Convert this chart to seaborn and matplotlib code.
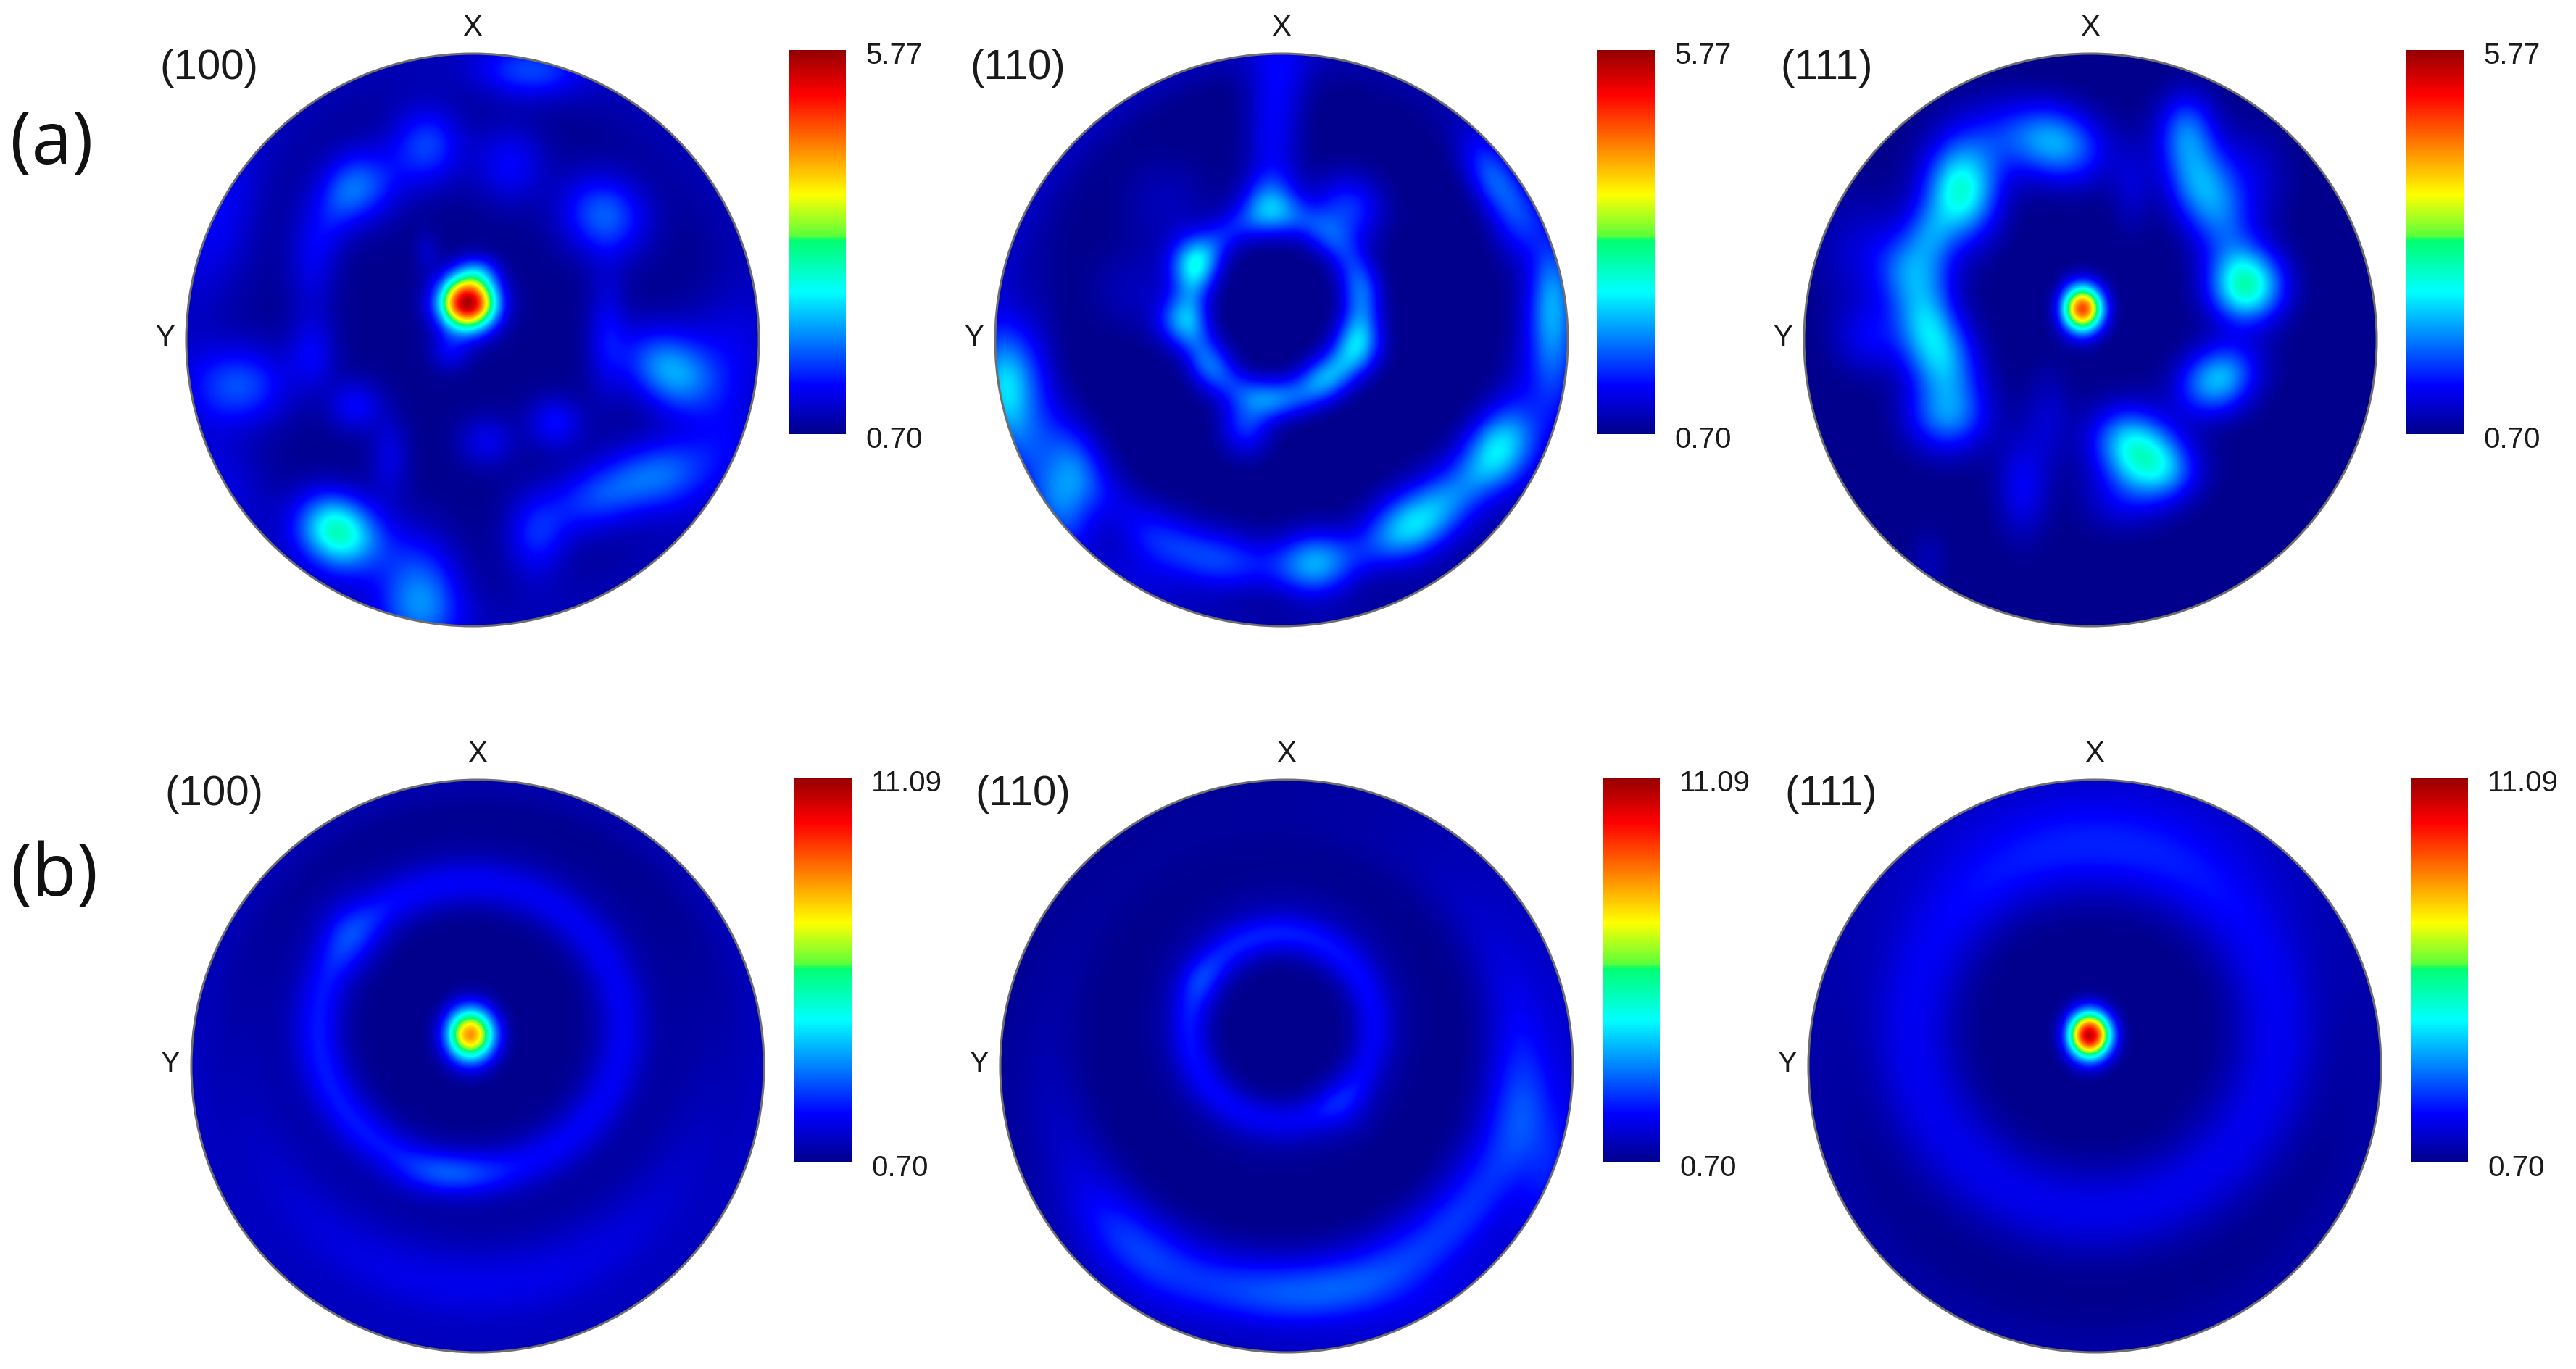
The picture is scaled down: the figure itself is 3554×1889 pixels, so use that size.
import numpy as np
import matplotlib
matplotlib.use("Agg")
import matplotlib.pyplot as plt
from matplotlib.colors import LinearSegmentedColormap
from matplotlib.patches import Circle
import seaborn as sns

W, H = 3555, 1890
sns.set_theme(style="white")
plt.rcParams['font.family'] = ['Liberation Sans', 'DejaVu Sans']

# Scale limits
row_a_range = (0.70, 5.77)
row_a_labels = ("5.77", "0.70")
row_b_range = (0.70, 11.09)
row_b_labels = ("11.09", "0.70")
plane_names = ["(100)", "(110)", "(111)"]
row_names = ["(a)", "(b)"]

# Colour bar stops
bar_stops = [(0.0, (0, 0, 140)), (0.125, (0, 0, 255)), (0.37, (0, 255, 255)),
             (0.505, (0, 255, 110)), (0.515, (90, 255, 60)), (0.624, (255, 255, 0)),
             (0.76, (255, 120, 0)), (0.885, (255, 0, 0)), (1.0, (150, 0, 0))]

# Intensity features, as fractions of the colour scale.
# spot: (x, y, spread x, spread y, tilt degrees, peak)  - x, y in units of the disc radius
# ring: (x0, y0, radius x, radius y, width, peak, strongest direction degrees, contrast)
a100_base = 0.0
a100_spots = [(-.017, .13, .068, .066, 0, .98), (-.16, .31, .03, .05, 0, .06),
              (.02, .24, .05, .04, 0, .12), (-.08, -.04, .05, .05, 0, .1),
              (-.16, .68, .09, .1, 0, .18), (-.39, .535, .1, .09, 30, .19),
              (-.56, .28, .065, .15, 0, .09), (-.47, .46, .06, .12, -20, .07), (.13, .615, .09, .1, 0, .12),
              (.2, .94, .13, .07, 0, .15), (.46, .435, .11, .1, -30, .21),
              (.69, -.11, .125, .09, -35, .27), (.47, .02, .05, .16, 0, .1),
              (-.81, -.16, .12, .1, 0, .19), (-.56, -.05, .06, .09, 0, .1),
              (-.41, -.23, .065, .065, 0, .12), (.29, -.29, .07, .065, 0, .13),
              (.05, -.355, .07, .065, 0, .1), (-.29, -.41, .05, .1, 0, .09),
              (-.475, -.667, .1, .085, -35, .41), (-.18, -.906, .1, .13, 0, .23),
              (.45, -.54, .15, .085, 25, .18), (.68, -.47, .12, .09, 20, .17),
              (.22, -.69, .075, .11, 0, .13), (.88, -.36, .1, .1, 0, .05),
              (.87, -.03, .11, .14, 0, .08), (-.9, .45, .12, .22, 0, .08),
              (-.3, -.72, .12, .1, 0, .06), (-.88, -.5, .12, .12, 0, .05)]
a100_rings = [(0, 0, 1, 1, .09, .04, 0, 0)]

a110_base = -0.012
a110_spots = [(-.31, .27, .06, .07, 0, .25), (-.355, .065, .06, .065, 0, .19),
              (-.25, -.09, .06, .07, 0, .1), (-.125, -.30, .065, .075, 0, .17),
              (-.03, -.21, .07, .05, 0, .1), (.155, -.13, .08, .06, 30, .16),
              (.275, -.015, .06, .07, 0, .2), (.285, .165, .055, .08, 0, .1),
              (.23, .455, .09, .09, 0, .18), (-.04, .485, .07, .07, 0, .19),
              (-.03, .7, .07, .15, 0, .12), (.0, .93, .08, .1, 0, .08),
              (-.51, .17, .12, .11, 0, .06), (-.4, .48, .12, .12, 0, .06),
              (-.957, -.167, .08, .14, 0, .29), (-.754, -.515, .085, .13, 0, .24),
              (-.87, -.35, .06, .09, 0, .07), (-.44, -.746, .11, .1, 0, .09),
              (-.22, -.78, .11, .09, 0, .09), (.117, -.783, .09, .085, 0, .2),
              (.45, -.645, .11, .085, 25, .25), (.765, -.39, .085, .115, -35, .3),
              (.58, -.54, .09, .09, 0, .09), (.95, .138, .06, .15, 0, .24),
              (.746, .558, .06, .12, 30, .19), (.84, .4, .07, .09, 0, .09),
              (.95, -.12, .07, .14, 0, .12)]
a110_rings = [(-.02, .115, .295, .315, .05, .14, 0, 0),
              (0, 0, 1, 1, .05, .06, 180, .6),
              (.0, .08, .87, .87, .07, .1, -90, .9)]

a111_base = -0.008
a111_spots = [(-.027, .109, .05, .058, 0, .82), (-.455, .515, .09, .115, 0, .4),
              (-.118, .688, .12, .09, -20, .28), (.337, .746, .07, .09, 0, .17),
              (.38, .558, .085, .125, 20, .25), (.546, .188, .09, .09, 0, .42),
              (.446, -.138, .1, .08, 30, .31), (.146, -.37, .1, .09, -30, .34),
              (.255, -.456, .09, .08, 0, .22), (-.528, -.05, .085, .115, 20, .31),
              (-.5, -.268, .1, .09, 0, .23), (-.61, .24, .09, .1, 0, .25),
              (-.774, .007, .09, .09, 0, .11), (-.237, -.514, .065, .125, 0, .12),
              (-.146, -.268, .06, .12, 0, .07), (.11, -.56, .1, .08, 0, .09),
              (.47, .38, .08, .125, 20, .12), (.565, .57, .09, .125, 0, .08),
              (-.565, -.775, .05, .09, 0, .05), (.146, .53, .05, .11, 0, .07),
              (-.8, .31, .12, .14, 0, .08), (-.35, .7, .12, .1, 0, .11),
              (-.58, .08, .07, .08, 0, .12), (-.56, .38, .06, .07, 0, .1)]
a111_rings = []

b100_base = -0.008
b100_spots = [(-.025, .11, .06, .066, 0, .74), (-.45, .47, .08, .09, 0, .07),
              (-.1, -.38, .12, .05, 0, .08)]
b100_rings = [(-.025, .135, .53, .505, .06, .12, 200, .25),
              (-.025, .15, .56, .54, .13, .03, 90, 0),
              (.0, .08, .85, .85, .12, .11, -90, 1.0),
              (0, 0, 1, 1, .06, .04, 0, 0)]

b110_base = -0.012
b110_spots = [(.2, -.14, .07, .07, 0, .05), (-.3, .3, .06, .06, 0, .04),
              (.1, -.8, .35, .08, 0, .05), (.88, -.26, .09, .22, 15, .08),
              (-.55, -.65, .18, .09, -40, .08)]
b110_rings = [(-.018, .135, .32, .325, .05, .12, 135, .25),
              (-.018, .135, .36, .37, .11, .05, 90, .3),
              (.0, .04, .83, .83, .1, .19, -60, .85),
              (0, 0, 1, 1, .05, .06, -40, .8)]

b111_base = -0.01
b111_spots = [(-.018, .108, .052, .058, 0, .96), (.05, .75, .42, .16, 0, .03)]
b111_rings = [(.0, .13, .63, .63, .115, .125, 90, .1),
              (.0, .13, .82, .82, .12, .025, 90, .8),
              (0, 0, 1, 1, .1, .035, 0, 0)]

row_a = [(a100_base, a100_spots, a100_rings), (a110_base, a110_spots, a110_rings), (a111_base, a111_spots, a111_rings)]
row_b = [(b100_base, b100_spots, b100_rings), (b110_base, b110_spots, b110_rings), (b111_base, b111_spots, b111_rings)]

# Layout in reference pixels
disc_r = 397
a_cx = [652, 1768, 2884]
b_cx = [659, 1775, 2890]
a_cy, b_cy = 470, 1472
a_bar_x = [1088, 2204, 3320]
b_bar_x = [1096, 2211, 3326]
a_bar_y = (70, 600)
b_bar_y = (1074, 1605)
bar_w = 79

cmap = LinearSegmentedColormap.from_list(
    "pole", [(p, tuple(c / 255 for c in col)) for p, col in bar_stops], N=512)
fig = plt.figure(figsize=(W / 100, H / 100), dpi=100, facecolor="white")


def px_axes(x0, y0, x1, y1):
    return fig.add_axes([x0 / W, 1 - y1 / H, (x1 - x0) / W, (y1 - y0) / H])


def field(base, spots, rings, n=800):
    ax_ = np.linspace(-1, 1, n)
    u, v = np.meshgrid(ax_, ax_[::-1])
    f = np.full(u.shape, float(base))
    for x0, y0, sx, sy, tilt, peak in spots:
        t = np.deg2rad(tilt)
        du, dv = u - x0, v - y0
        a = du * np.cos(t) + dv * np.sin(t)
        b = -du * np.sin(t) + dv * np.cos(t)
        f += peak * np.exp(-.5 * ((a / sx) ** 2 + (b / sy) ** 2))
    for x0, y0, rx, ry, w, peak, th0, contrast in rings:
        du, dv = u - x0, v - y0
        d = (np.hypot(du / rx, dv / ry) - 1) * (rx + ry) / 2
        th = np.arctan2(dv, du)
        mod = 1 - contrast + contrast * (.5 + .5 * np.cos(th - np.deg2rad(th0))) ** 1.5
        f += peak * mod * np.exp(-.5 * (d / w) ** 2)
    mask = np.hypot(u, v) > 1
    return np.clip(f, 0, 1), mask


def draw_panel(cx, cy, feats, rng, bar_x, bar_y, labels, name, lab_x):
    base, spots, rings = feats
    vmin, vmax = rng
    ax = px_axes(cx - disc_r, cy - disc_r, cx + disc_r, cy + disc_r)
    f, mask = field(base, spots, rings)
    sns.heatmap(vmin + f * (vmax - vmin), mask=mask, vmin=vmin, vmax=vmax, cmap=cmap,
                cbar=False, xticklabels=False, yticklabels=False, square=False, ax=ax,
                rasterized=True)
    n = f.shape[0]
    ax.add_patch(Circle((n / 2, n / 2), n / 2, fill=False, ec="#6e6e6e", lw=2.2, clip_on=False))
    ax.set_xlim(-2, n + 2)
    ax.set_ylim(n + 2, -2)
    ax.axis("off")

    bax = px_axes(bar_x, bar_y[0], bar_x + bar_w, bar_y[1])
    levels = np.linspace(vmax, vmin, 400).reshape(-1, 1)
    sns.heatmap(levels, vmin=vmin, vmax=vmax, cmap=cmap, cbar=False,
                xticklabels=False, yticklabels=False, ax=bax, rasterized=True)
    bax.axis("off")

    fam = ['Liberation Sans', 'DejaVu Sans']
    fs = 29
    kw = dict(va="center", color="#1a1a1a", family=fam)
    fig.text(lab_x / W, 1 - (bar_y[0] + 7) / H, labels[0], fontsize=fs, ha="left", **kw)
    fig.text(lab_x / W, 1 - (bar_y[1] + 7) / H, labels[1], fontsize=fs, ha="left", **kw)
    fig.text(cx / W, 1 - (cy - 432) / H, "X", fontsize=fs, ha="center", **kw)
    fig.text((cx - 424) / W, 1 - (cy - 4) / H, "Y", fontsize=fs, ha="center", **kw)
    fig.text((cx - 364) / W, 1 - (cy - 376) / H, name, fontsize=42, ha="center", **kw)


for i in range(3):
    draw_panel(a_cx[i], a_cy, row_a[i], row_a_range, a_bar_x[i], a_bar_y, row_a_labels,
               plane_names[i], a_bar_x[i] + 106)
    draw_panel(b_cx[i], b_cy, row_b[i], row_b_range, b_bar_x[i], b_bar_y, row_b_labels,
               plane_names[i], b_bar_x[i] + 106)

fig.text(71 / W, 1 - 200 / H, row_names[0], fontsize=72, family=['Open Sans', 'DejaVu Sans'],
         ha="center", va="center", color="#111111")
fig.text(75 / W, 1 - 1210 / H, row_names[1], fontsize=72, family=['Open Sans', 'DejaVu Sans'],
         ha="center", va="center", color="#111111")

fig.savefig("out.png", dpi=100, facecolor="white")
